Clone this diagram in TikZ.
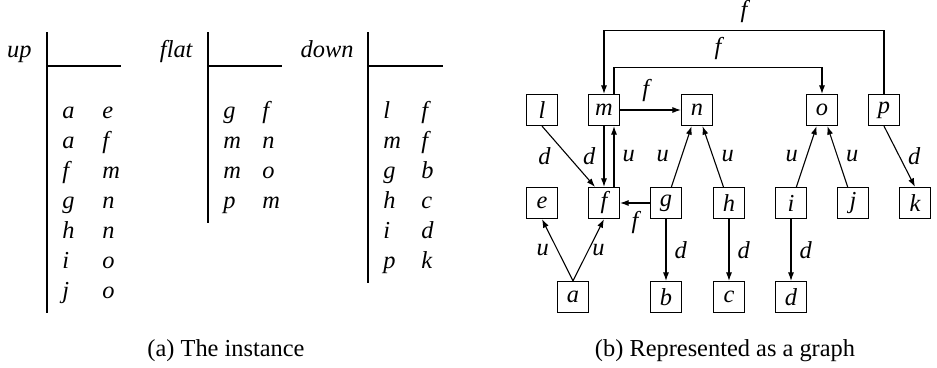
\documentclass[tikz,border=0pt]{standalone}
\usepackage{fontspec}
\setmainfont{Liberation Serif}
\usetikzlibrary{arrows.meta}

\begin{document}
\begin{tikzpicture}[x=0.41pt, y=-0.41pt, >={Latex[length=3.5pt,width=2.5pt]},
  vertex/.style={draw, line width=0.5pt, minimum size=12.7pt, inner sep=0pt, font=\itshape},
  edge/.style={->, line width=0.45pt},
  lab/.style={font=\itshape},
  cell/.style={anchor=base west, inner sep=0pt, font=\itshape},
  head/.style={anchor=base east, inner sep=0pt, font=\itshape},
  rule/.style={line width=0.5pt}]
\useasboundingbox (0,0) rectangle (937,367);

% (a) the instance
\node (uphead) [head] at (32,57) {up};
\draw[rule] (47,32) -- (47,313);
\draw[rule] (47,66) -- (121,66);
\foreach \l/\r [count=\i from 0] in {a/e,a/f,f/m,g/n,h/n,i/o,j/o} {
  \node [cell] at (62,118+30*\i) {\l};
  \node [cell] at (102,118+30*\i) {\r};
}

\node (flathead) [head] at (193,57) {flat};
\draw[rule] (208,32) -- (208,223);
\draw[rule] (208,66) -- (282,66);
\foreach \l/\r [count=\i from 0] in {g/f,m/n,m/o,p/m} {
  \node [cell] at (223,118+30*\i) {\l};
  \node [cell] at (262,118+30*\i) {\r};
}

\node (downhead) [head] at (354,57) {down};
\draw[rule] (368,32) -- (368,283);
\draw[rule] (368,66) -- (443,66);
\foreach \l/\r [count=\i from 0] in {l/f,m/f,g/b,h/c,i/d,p/k} {
  \node [cell] at (383,118+30*\i) {\l};
  \node [cell] at (421,118+30*\i) {\r};
}

\node (capa) [anchor=base] at (226,356) {(a) The instance};

% (b) the graph
\node (l) [vertex] at (542,110) {l};
\node (m) [vertex] at (604,110) {m};
\node (n) [vertex] at (697,110) {n};
\node (o) [vertex] at (822,110) {o};
\node (p) [vertex] at (884,110) {p};
\node (e) [vertex] at (542,203) {e};
\node (f) [vertex] at (604,203) {f};
\node (g) [vertex] at (666,203) {g};
\node (h) [vertex] at (729,203) {h};
\node (i) [vertex] at (791,203) {i};
\node (j) [vertex] at (853,203) {j};
\node (k) [vertex] at (915,203) {k};
\node (a) [vertex] at (573,297) {a};
\node (b) [vertex] at (666,297) {b};
\node (c) [vertex] at (729,297) {c};
\node (d) [vertex] at (791,297) {d};

\draw[edge] (p.north) -- ++(0,-63) -| node[lab, above, pos=0.25] {f} (m.north);
\draw[edge] ([xshift=4.1pt]m.north) -- ++(0,-26) -| node[lab, above, pos=0.25] {f} (o.north);
\draw[edge] (m) -- node[lab, above, pos=0.42] {f} (n);
\draw[edge] (l.south) -- node[lab, left=3.8pt] {d} ([xshift=-3.7pt]f.north);
\draw[edge] (m) -- node[lab, left] {d} (f);
\draw[edge] ([xshift=4.1pt]f.north) -- node[lab, right] {u} ([xshift=4.1pt]m.south);
\draw[edge] (g) -- node[lab, below] {f} (f);
\draw[edge] (g) -- node[lab, left=1.6pt] {u} (n);
\draw[edge] (h) -- node[lab, right] {u} (n);
\draw[edge] (i) -- node[lab, left] {u} (o);
\draw[edge] (j) -- node[lab, right] {u} (o);
\draw[edge] (p.south) -- node[lab, right] {d} (k.north);
\draw[edge] (a.north) -- node[lab, left] {u} (e.south);
\draw[edge] (a.north) -- node[lab, right=-2pt] {u} (f.south);
\draw[edge] (g) -- node[lab, right] {d} (b);
\draw[edge] (h) -- node[lab, right] {d} (c);
\draw[edge] (i) -- node[lab, right] {d} (d);

\node (capb) [anchor=base] at (725,356) {(b) Represented as a graph};
\end{tikzpicture}
\end{document}
